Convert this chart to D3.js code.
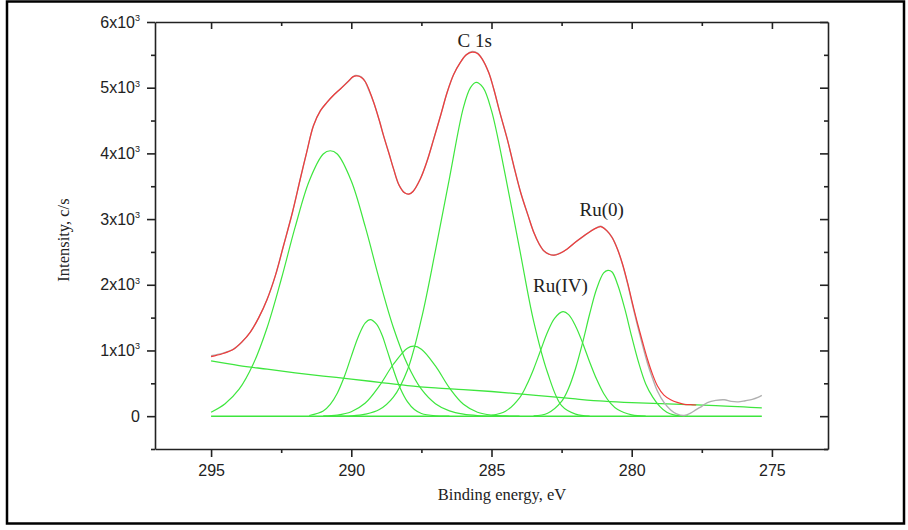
<!DOCTYPE html>
<html>
<head>
<meta charset="utf-8">
<script src="https://cdn.jsdelivr.net/npm/d3@7"></script>
<style>
  body { margin: 0; background: #fff; }
</style>
</head>
<body>
<div id="chart"></div>
<script>
// axis ticks
const xTicks = [295, 290, 285, 280, 275];
const xMinor = [292.5, 287.5, 282.5, 277.5];
const yTicks = [0, 1000, 2000, 3000, 4000, 5000, 6000];
const yMinor = [-500, 500, 1500, 2500, 3500, 4500, 5500];

// [binding energy, intensity]
const rawData = [[295,920],[294.6,955],[294.2,1020],[293.9,1130],[293.6,1280],[293.3,1500],[293,1780],[292.7,2150],[292.42,2590],[292.1,3100],[291.82,3610],[291.6,4000],[291.35,4420],[291.1,4650],[290.87,4775],[290.6,4900],[290.39,4980],[290.1,5100],[289.86,5185],[289.7,5175],[289.56,5130],[289.4,4990],[289.2,4775],[289,4500],[288.85,4270],[288.65,3990],[288.49,3760],[288.3,3520],[288.1,3400],[287.95,3380],[287.8,3420],[287.54,3610],[287.3,3880],[287.06,4220],[286.8,4600],[286.58,4930],[286.35,5200],[286.11,5385],[285.9,5500],[285.69,5550],[285.5,5525],[285.33,5435],[285.1,5230],[284.92,4980],[284.7,4620],[284.44,4220],[284.2,3800],[283.96,3405],[283.7,3060],[283.49,2795],[283.3,2620],[283.13,2515],[282.95,2465],[282.77,2450],[282.55,2480],[282.3,2545],[282,2650],[281.7,2745],[281.45,2820],[281.23,2875],[281.1,2890],[280.88,2820],[280.7,2720],[280.51,2545],[280.33,2310],[280.15,2020],[279.98,1710],[279.8,1390],[279.62,1090],[279.44,810],[279.26,580],[279.08,380],[278.85,210],[278.61,95],[278.4,35],[278.13,10],[277.9,45],[277.7,100],[277.5,150],[277.3,205],[277,240],[276.7,250],[276.45,225],[276.2,218],[275.95,235],[275.7,255],[275.5,285],[275.36,315]];
const envelope = [[295,905],[294.6,950],[294.2,1020],[293.9,1130],[293.6,1280],[293.3,1500],[293,1780],[292.7,2150],[292.42,2590],[292.1,3100],[291.82,3610],[291.6,4000],[291.35,4420],[291.1,4650],[290.87,4775],[290.6,4900],[290.39,4980],[290.1,5100],[289.95,5165],[289.8,5180],[289.65,5160],[289.5,5090],[289.35,4950],[289.2,4775],[289,4500],[288.85,4270],[288.65,3990],[288.49,3760],[288.3,3520],[288.1,3400],[287.95,3380],[287.8,3420],[287.54,3610],[287.3,3880],[287.06,4220],[286.8,4600],[286.58,4930],[286.35,5200],[286.11,5385],[285.9,5500],[285.69,5540],[285.5,5520],[285.33,5435],[285.1,5230],[284.92,4980],[284.7,4620],[284.44,4220],[284.2,3800],[283.96,3405],[283.7,3060],[283.49,2795],[283.3,2620],[283.13,2515],[282.95,2465],[282.77,2450],[282.55,2480],[282.3,2545],[282,2650],[281.7,2745],[281.45,2820],[281.23,2870],[281.1,2885],[280.88,2820],[280.7,2720],[280.51,2545],[280.33,2320],[280.15,2035],[279.98,1730],[279.8,1425],[279.62,1140],[279.44,870],[279.26,640],[279.08,460],[278.85,320],[278.61,250],[278.35,205],[278.13,180],[277.9,175],[277.7,170]];
const background = [[295,840],[294,770],[293,715],[292,660],[291,610],[290,565],[289,515],[288,465],[287,430],[286,405],[285,375],[284,340],[283,300],[282,262],[281,228],[280,205],[279,190],[278,175],[277,160],[276,140],[275.36,125]];
const zeroLine = [[295,0],[275.36,0]];
const peakA = [[295,60],[294.5,190],[294,410],[293.5,790],[293,1350],[292.5,2080],[292,2880],[291.5,3580],[291,3990],[290.75,4040],[290.5,3990],[290,3580],[289.5,2880],[289,2080],[288.5,1350],[288,790],[287.5,410],[287,190],[286.5,80],[286,30],[285.5,8],[285,0]];
const peakB = [[291.5,10],[291,80],[290.75,180],[290.5,350],[290.25,600],[290,910],[289.75,1210],[289.5,1420],[289.32,1470],[289.1,1400],[288.9,1230],[288.75,1040],[288.5,710],[288.25,420],[288,220],[287.75,100],[287.5,40],[287,5],[286.5,0]];
const peakC = [[291,5],[290.5,17],[290,68],[289.5,200],[289,460],[288.5,790],[288,1035],[287.77,1065],[287.5,1020],[287,765],[286.5,430],[286,180],[285.5,60],[285,15],[284.5,3],[284,0]];
const peakD = [[290.5,0],[290,5],[289.5,30],[289,100],[288.5,290],[288,700],[287.5,1480],[287,2520],[286.5,3620],[286,4700],[285.75,5000],[285.55,5080],[285.3,5000],[285,4650],[284.5,3650],[284,2550],[283.5,1450],[283,660],[282.5,160],[282,30],[281.5,0]];
const peakE = [[285,14],[284.5,75],[284,280],[283.75,470],[283.5,715],[283.25,1000],[283,1280],[282.75,1490],[282.45,1590],[282.25,1545],[282,1370],[281.75,1115],[281.5,825],[281.25,560],[281,345],[280.75,195],[280.5,100],[280,20],[279.5,0]];
const peakF = [[283.5,5],[283,45],[282.5,225],[282.25,425],[282,730],[281.75,1120],[281.5,1555],[281.25,1940],[281,2180],[280.85,2220],[280.7,2195],[280.5,2000],[280.25,1640],[280,1210],[279.75,810],[279.5,490],[279.25,290],[279,150],[278.75,60],[278.5,20],[278,0]];
const components = [peakA, peakB, peakC, peakD, peakE, peakF];

// peak annotations
const annText = ["C 1s", "Ru(0)", "Ru(IV)"];
const annEv = [285.6, 281.07, 282.54];
const annVal = [5616, 3044, 1888];

const svg = d3.select("#chart")
  .append("svg")
  .attr("width", 908)
  .attr("height", 530);

svg.append("rect")
  .attr("x", 7).attr("y", 1.5)
  .attr("width", 897).attr("height", 522)
  .attr("fill", "#fff")
  .attr("stroke", "#000")
  .attr("stroke-width", 2.5);

const margin = { top: 22, left: 155 };
const width = 673;
const height = 427;

const chart = svg.append("g")
  .attr("transform", `translate(${margin.left}, ${margin.top})`);

const x = d3.scaleLinear().domain([297, 273]).range([0, width]);
const y = d3.scaleLinear().domain([-500, 6000]).range([height, 0]);

const line = d3.line()
  .x(d => x(d[0]))
  .y(d => y(d[1]))
  .curve(d3.curveCatmullRom.alpha(0.5));

const green = "#3ee63e";

components.forEach(p => {
  chart.append("path").datum(p)
    .attr("d", line)
    .attr("fill", "none")
    .attr("stroke", green)
    .attr("stroke-width", 1.2);
});

chart.append("path").datum(background)
  .attr("d", line).attr("fill", "none")
  .attr("stroke", green).attr("stroke-width", 1.3);

chart.append("path").datum(zeroLine)
  .attr("d", line).attr("fill", "none")
  .attr("stroke", green).attr("stroke-width", 1.5);

chart.append("path").datum(rawData)
  .attr("d", line).attr("fill", "none")
  .attr("stroke", "#b0b0b0").attr("stroke-width", 1.4);

chart.append("path").datum(envelope)
  .attr("d", line).attr("fill", "none")
  .attr("stroke", "#f03a3a").attr("stroke-width", 1.2);

// axes
const axisFont = "'Liberation Sans', Arial, sans-serif";
const styleAxis = g => {
  g.selectAll("path, line").attr("stroke", "#222").attr("stroke-width", 1.6);
  g.selectAll("text").attr("fill", "#222").attr("font-size", "16px").attr("font-family", axisFont);
};

chart.append("g")
  .attr("transform", `translate(0, ${height})`)
  .call(d3.axisBottom(x).tickValues(xTicks).tickSize(8).tickSizeOuter(0).tickPadding(8))
  .call(styleAxis);
chart.append("g")
  .attr("transform", `translate(0, ${height})`)
  .call(d3.axisBottom(x).tickValues(xMinor).tickSize(4).tickFormat(""))
  .call(g => g.select(".domain").remove())
  .call(styleAxis);

chart.append("g")
  .call(d3.axisTop(x).tickValues(xTicks).tickSize(-7).tickSizeOuter(0).tickFormat(""))
  .call(styleAxis);
chart.append("g")
  .call(d3.axisTop(x).tickValues(xMinor).tickSize(-4).tickFormat(""))
  .call(g => g.select(".domain").remove())
  .call(styleAxis);

const leftAxis = chart.append("g")
  .call(d3.axisLeft(y).tickValues(yTicks).tickSize(8).tickSizeOuter(0).tickPadding(7))
  .call(styleAxis);
chart.append("g")
  .call(d3.axisLeft(y).tickValues(yMinor).tickSize(4).tickFormat(""))
  .call(g => g.select(".domain").remove())
  .call(styleAxis);

leftAxis.selectAll(".tick text").each(function(d) {
  const t = d3.select(this).text("");
  if (d === 0) { t.text("0"); return; }
  t.append("tspan").text(`${d / 1000}x10`);
  t.append("tspan").attr("dy", "-0.75em").attr("font-size", "9px").text("3");
});

chart.append("g")
  .attr("transform", `translate(${width}, 0)`)
  .call(d3.axisRight(y).tickValues(yTicks).tickSize(-8).tickSizeOuter(0).tickFormat(""))
  .call(styleAxis);
chart.append("g")
  .attr("transform", `translate(${width}, 0)`)
  .call(d3.axisRight(y).tickValues(yMinor).tickSize(-4).tickFormat(""))
  .call(g => g.select(".domain").remove())
  .call(styleAxis);

// titles
const serif = "'Liberation Serif', 'Times New Roman', serif";

chart.append("text")
  .attr("x", 347)
  .attr("y", height + 51)
  .attr("text-anchor", "middle")
  .attr("font-family", serif)
  .attr("font-size", "16.5px")
  .attr("fill", "#222")
  .text("Binding energy, eV");

svg.append("text")
  .attr("transform", "translate(69, 240) rotate(-90)")
  .attr("text-anchor", "middle")
  .attr("font-family", serif)
  .attr("font-size", "16.5px")
  .attr("fill", "#222")
  .text("Intensity, c/s");

annText.forEach((t, i) => {
  chart.append("text")
    .attr("x", x(annEv[i]))
    .attr("y", y(annVal[i]))
    .attr("text-anchor", "middle")
    .attr("font-family", serif)
    .attr("font-size", "19px")
    .attr("fill", "#222")
    .text(t);
});
</script>
</body>
</html>
